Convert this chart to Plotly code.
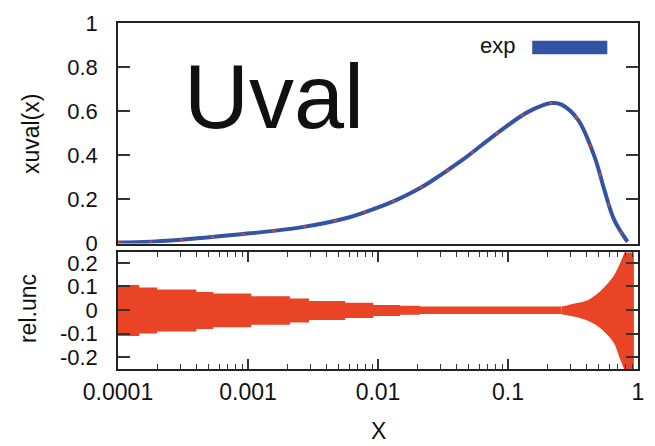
import plotly.graph_objects as go
from plotly.subplots import make_subplots

# valence up-quark distribution x*u_v(x)
x_curve = [1.0e-4, 1.795e-4, 4.83e-4, 1.03e-3, 2.48e-3, 5.94e-3, 0.01067, 0.01393,
           0.01914, 0.0250, 0.0449, 0.0804, 0.144, 0.217, 0.258, 0.346, 0.462,
           0.551, 0.656, 0.83]
xuval = [0.004, 0.008, 0.027, 0.046, 0.072, 0.118, 0.170, 0.198,
         0.238, 0.278, 0.380, 0.495, 0.598, 0.637, 0.630, 0.561, 0.395,
         0.243, 0.107, 0.008]

# relative uncertainty band, small-x part (binned steps)
x_band_lo = [1.0e-4, 1.46e-4, 2.0e-4, 4.0e-4, 5.4e-4, 1.06e-3, 2.1e-3, 2.95e-3,
             5.6e-3, 9.2e-3, 1.48e-2, 2.1e-2, 0.258]
unc_up_lo = [0.106, 0.096, 0.087, 0.077, 0.070, 0.059, 0.049, 0.039,
             0.031, 0.022, 0.018, 0.015, 0.015]
unc_dn_lo = [-0.109, -0.099, -0.090, -0.080, -0.072, -0.062, -0.052, -0.042,
             -0.033, -0.025, -0.020, -0.016, -0.016]

# relative uncertainty band, large-x part
x_band_hi = [0.258, 0.326, 0.411, 0.490, 0.585, 0.656, 0.716, 0.782, 0.83, 0.93]
unc_up_hi = [0.015, 0.028, 0.042, 0.071, 0.113, 0.148, 0.190, 0.240, 0.30, 0.30]
unc_dn_hi = [-0.017, -0.028, -0.045, -0.068, -0.106, -0.141, -0.197, -0.250, -0.30, -0.30]

x_tickvals = [1e-4, 1e-3, 1e-2, 1e-1, 1]
x_ticktext = ["0.0001", "0.001", "0.01", "0.1", "1"]
x_minor = [m * 10 ** e for e in range(-4, 0) for m in range(2, 10)]

BLUE = "#3553A5"
RED = "#E94425"
FONT = "Liberation Sans, Arial, Helvetica, sans-serif"

fig = make_subplots(rows=2, cols=1, shared_xaxes=True)

# top panel: central curve
fig.add_trace(go.Scatter(x=x_curve, y=xuval, mode="lines", line=dict(color=BLUE, width=4, shape="spline"),
                         showlegend=False, hoverinfo="skip"), row=1, col=1)
fig.add_trace(go.Scatter(x=x_curve, y=xuval, mode="lines",
                         line=dict(color=RED, width=2, shape="spline", dash="3px,28px"),
                         showlegend=False, hoverinfo="skip"), row=1, col=1)

# bottom panel: uncertainty band
fig.add_trace(go.Scatter(x=x_band_lo, y=unc_dn_lo, mode="lines", line=dict(width=0, shape="hv"),
                         showlegend=False, hoverinfo="skip"), row=2, col=1)
fig.add_trace(go.Scatter(x=x_band_lo, y=unc_up_lo, mode="lines", line=dict(width=0, shape="hv"),
                         fill="tonexty", fillcolor=RED, showlegend=False, hoverinfo="skip"), row=2, col=1)
fig.add_trace(go.Scatter(x=x_band_hi, y=unc_dn_hi, mode="lines", line=dict(width=0, shape="spline"),
                         showlegend=False, hoverinfo="skip"), row=2, col=1)
fig.add_trace(go.Scatter(x=x_band_hi, y=unc_up_hi, mode="lines", line=dict(width=0, shape="spline"),
                         fill="tonexty", fillcolor=RED, showlegend=False, hoverinfo="skip"), row=2, col=1)

axis_common = dict(showgrid=False, zeroline=False, showline=True, linecolor="#222", linewidth=1.5,
                   tickcolor="#333", tickwidth=1.5, tickfont=dict(family=FONT, size=22, color="#111"))

fig.update_xaxes(type="log", range=[-4, 0], row=1, col=1, mirror=True, ticks="",
                 showticklabels=False, **axis_common)
fig.update_xaxes(type="log", range=[-4, 0], row=2, col=1, mirror="allticks", ticks="inside",
                 ticklen=10, tickvals=x_tickvals, ticktext=x_ticktext, ticklabelstandoff=2,
                 minor=dict(tickvals=x_minor, ticks="inside", ticklen=5, tickcolor="#333", tickwidth=1.2),
                 **{**axis_common, "tickfont": dict(family=FONT, size=23, color="#111")})
fig.update_yaxes(range=[0, 1], row=1, col=1, mirror="allticks", ticks="inside", ticklen=12,
                 tickvals=[0, 0.2, 0.4, 0.6, 0.8, 1], ticktext=["0", "0.2", "0.4", "0.6", "0.8", "1"],
                 ticklabelstandoff=14, **axis_common)
fig.update_yaxes(range=[-0.249, 0.244], row=2, col=1, mirror="allticks", ticks="inside", ticklen=12,
                 tickvals=[-0.2, -0.1, 0, 0.1, 0.2], ticktext=["-0.2", "-0.1", "0", "0.1", "0.2"],
                 ticklabelstandoff=14, **axis_common)

fig.update_layout(
    width=655, height=446,
    margin=dict(l=118, r=11, t=23, b=77),
    plot_bgcolor="white", paper_bgcolor="white",
    xaxis=dict(domain=[0, 1]), xaxis2=dict(domain=[0, 1]),
    yaxis=dict(domain=[0.3627, 1.0]), yaxis2=dict(domain=[0.0, 0.337]),
    font=dict(family=FONT, color="#111"),
    annotations=[
        dict(text="Uval", x=0.3004, y=0.7847, xref="paper", yref="paper", showarrow=False,
             xanchor="center", yanchor="middle", font=dict(family=FONT, size=90, color="#111")),
        dict(text="exp", x=0.768, y=0.9347, xref="paper", yref="paper", showarrow=False,
             xanchor="right", yanchor="middle", font=dict(family=FONT, size=22, color="#111")),
        dict(text="xuval(x)", x=-0.1673, y=0.679, xref="paper", yref="paper", showarrow=False,
             textangle=-90, xanchor="center", yanchor="middle", font=dict(family=FONT, size=23, color="#111")),
        dict(text="rel.unc", x=-0.173, y=0.1734, xref="paper", yref="paper", showarrow=False,
             textangle=-90, xanchor="center", yanchor="middle", font=dict(family=FONT, size=23, color="#111")),
        dict(text="X", x=0.5, y=-0.180, xref="paper", yref="paper", showarrow=False,
             xanchor="center", yanchor="middle", font=dict(family=FONT, size=23, color="#111")),
    ],
    shapes=[
        dict(type="rect", xref="paper", yref="paper", x0=0.7966, x1=0.941, y0=0.9095, y1=0.9488,
             fillcolor=BLUE, line=dict(width=0)),
    ],
)

fig.write_html("out.html")
